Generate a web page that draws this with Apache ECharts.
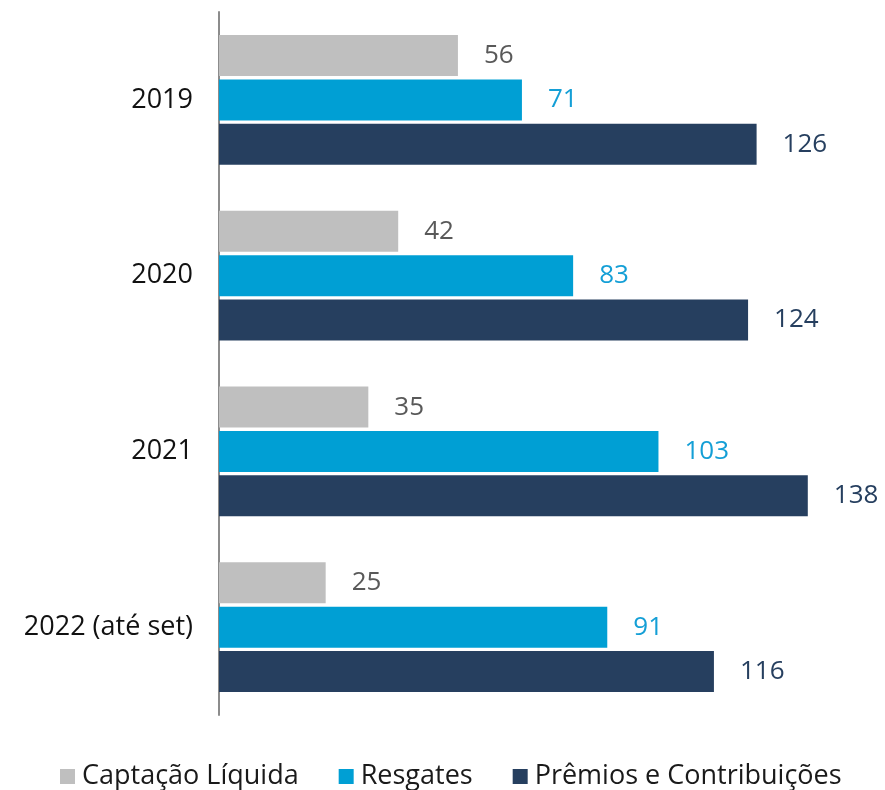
<!DOCTYPE html>
<html>
<head>
<meta charset="utf-8">
<script src="https://cdn.jsdelivr.net/npm/echarts@6/dist/echarts.min.js"></script>
<style>
  html, body { margin: 0; padding: 0; background: #fff; }
  #chart { width: 885px; height: 790px; }
</style>
</head>
<body>
<div id="chart"></div>
<script>
var categories = ['2019', '2020', '2021', '2022 (até set)'];
var captacao = [56, 42, 35, 25];
var resgates = [71, 83, 103, 91];
var premios = [126, 124, 138, 116];

var fontFamily = '"Open Sans", "Noto Sans", sans-serif';

var box = document.getElementById('chart');
var myChart = echarts.init(box);

function barSeries(name, data, color, labelColor) {
    return {
        name: name,
        type: 'bar',
        data: data,
        barWidth: 41,
        barGap: '8%',
        itemStyle: { color: color },
        label: {
            show: true,
            position: 'right',
            distance: 26,
            color: labelColor,
            fontSize: 26,
            fontFamily: fontFamily
        }
    };
}

var option = {
    animation: false,
    legend: {
        bottom: -5,
        left: 55,
        itemWidth: 15,
        itemHeight: 15,
        itemGap: 40,
        icon: 'rect',
        textStyle: { fontSize: 27, color: '#1a1a1a', fontFamily: fontFamily, padding: [0, 0, 0, 2] },
        data: ['Captação Líquida', 'Resgates', 'Prêmios e Contribuições']
    },
    grid: { left: 219, right: 26, top: 12, bottom: 75 },
    xAxis: {
        type: 'value',
        min: 0,
        max: 150,
        show: false
    },
    yAxis: {
        type: 'category',
        inverse: true,
        data: categories,
        axisLine: { lineStyle: { color: '#8c8c8c', width: 2 } },
        axisTick: { show: false },
        axisLabel: { fontSize: 27, color: '#111', margin: 26, fontFamily: fontFamily }
    },
    series: [
        barSeries('Captação Líquida', captacao, '#bfbfbf', '#595959'),
        barSeries('Resgates', resgates, '#009fd4', '#149fd6'),
        barSeries('Prêmios e Contribuições', premios, '#263f5f', '#263f5f')
    ]
};
myChart.setOption(option);
</script>
</body>
</html>
